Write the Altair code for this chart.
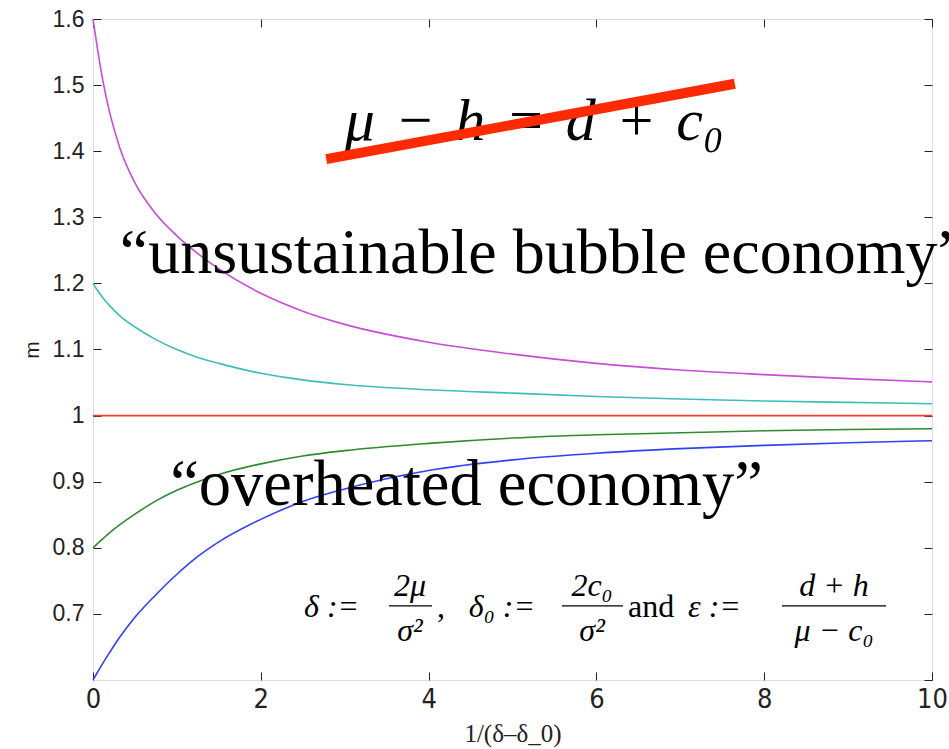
import altair as alt
import pandas as pd

# Sample points along the horizontal axis 1/(delta - delta_0)
x_vals = [0, 0.05, 0.12, 0.2, 0.32, 0.5, 0.75, 1, 1.25, 1.5, 2, 2.5, 3, 4, 5, 6, 7, 8, 9, 10]

# m for each starting level
m_magenta = [1.6, 1.558, 1.505, 1.458, 1.405, 1.352, 1.305, 1.272, 1.245, 1.222, 1.185,
             1.158, 1.138, 1.111, 1.093, 1.079, 1.069, 1.062, 1.056, 1.051]
m_cyan = [1.2, 1.19, 1.178, 1.166, 1.151, 1.134, 1.115, 1.1, 1.088, 1.079, 1.064,
          1.054, 1.047, 1.039, 1.034, 1.029, 1.025, 1.022, 1.02, 1.018]
m_red = [1.0] * len(x_vals)
m_green = [0.8, 0.806, 0.814, 0.823, 0.835, 0.851, 0.871, 0.887, 0.9, 0.911, 0.927,
           0.939, 0.947, 0.958, 0.966, 0.971, 0.974, 0.977, 0.979, 0.98]
m_blue = [0.6, 0.611, 0.626, 0.642, 0.665, 0.695, 0.729, 0.76, 0.787, 0.809, 0.843,
          0.87, 0.889, 0.917, 0.933, 0.943, 0.95, 0.955, 0.959, 0.962]

series_names = ["m0=1.6", "m0=1.2", "m0=1", "m0=0.8", "m0=0.6"]
series_colors = ["#c84cd6", "#3fbcbc", "#f2402e", "#2f8a2f", "#3040ff"]

x_ticks = [0, 2, 4, 6, 8, 10]
y_ticks = [0.6, 0.7, 0.8, 0.9, 1.0, 1.1, 1.2, 1.3, 1.4, 1.5, 1.6]
y_labels = [0.7, 0.8, 0.9, 1.0, 1.1, 1.2, 1.3, 1.4, 1.5, 1.6]

rows = []
for name, vals in zip(series_names, [m_magenta, m_cyan, m_red, m_green, m_blue]):
    for xv, mv in zip(x_vals, vals):
        rows.append({"x": xv, "m": mv, "series": name})
curves = pd.DataFrame(rows)

W, H = 839, 661
TICK = 8
X_SCALE = alt.Scale(domain=[0, 10], nice=False)
Y_SCALE = alt.Scale(domain=[0.6, 1.6], nice=False, zero=False)

# Axes sit TICK px inside the frame so their ticks point inward
X_ENC = alt.X(
    "x:Q",
    scale=X_SCALE,
    axis=alt.Axis(values=x_ticks, format="d", title="1/(δ–δ_0)", domain=False, grid=False,
                  ticks=True, tickSize=TICK, tickColor="#222", offset=-TICK,
                  labelFlush=False,
                  labelFont="Liberation Sans Narrow, DejaVu Sans Condensed, Liberation Sans",
                  labelFontSize=27, labelColor="#222", labelPadding=6,
                  titleFont="Liberation Serif", titleFontSize=25, titleFontWeight="normal",
                  titleColor="#222", titlePadding=9),
)
Y_ENC = alt.Y(
    "m:Q",
    scale=Y_SCALE,
    axis=alt.Axis(values=y_labels, format=".1~f", title="m", domain=False, grid=False,
                  ticks=True, tickSize=TICK, tickColor="#222", offset=-TICK,
                  labelFlush=False, labelFont="Liberation Sans", labelFontSize=23,
                  labelColor="#222", labelPadding=9, titleFont="Liberation Sans",
                  titleFontSize=21, titleFontWeight="normal", titleColor="#222",
                  titlePadding=10),
)

lines = alt.Chart(curves).mark_line(strokeWidth=1.6, interpolate="monotone").encode(
    x=X_ENC,
    y=Y_ENC,
    color=alt.Color("series:N", scale=alt.Scale(domain=series_names, range=series_colors),
                    legend=None),
    detail="series:N",
)

# Tick-only axes on the top and right edges of the frame
frame_ticks = alt.Chart(curves).mark_line(opacity=0).encode(
    x=alt.X("x:Q", scale=X_SCALE,
            axis=alt.Axis(orient="top", values=x_ticks, labels=False, title=None,
                          domain=False, grid=False, ticks=True, tickSize=TICK,
                          tickColor="#222", offset=-TICK)),
    y=alt.Y("m:Q", scale=Y_SCALE,
            axis=alt.Axis(orient="right", values=y_ticks, labels=False, title=None,
                          domain=False, grid=False, ticks=True, tickSize=TICK,
                          tickColor="#222", offset=-TICK)),
    detail="series:N",
)


def label(text, x, y, size, style="normal", align="left", font="Liberation Serif"):
    return alt.Chart(pd.DataFrame({"t": [text]})).mark_text(
        font=font, fontSize=size, fontStyle=style, align=align,
        baseline="alphabetic", color="black",
    ).encode(x=alt.datum(x), y=alt.datum(y), text="t:N")


def bar(x1, x2, y):
    return alt.Chart(pd.DataFrame({"t": [""]})).mark_rule(color="black", strokeWidth=1.3).encode(
        x=alt.datum(x1), x2=alt.datum(x2), y=alt.datum(y)
    )


FS = 32
main_y, num_y, bar_y, den_y = 0.6953, 0.7271, 0.712, 0.659
SP = "\u2004"  # three-per-em space around math operators

annotations = [
    label("“unsustainable bubble economy”", 0.32, 1.216, 64),
    label("“overheated economy”", 0.92, 0.865, 64.5),
    label(f"μ{SP}−{SP}h{SP}={SP}d{SP}+{SP}c₀", 3.0, 1.417, 60, style="italic"),
    alt.Chart(pd.DataFrame({"t": [""]})).mark_rule(color="#ff2a00", strokeWidth=10,
                                                     strokeCap="butt").encode(
        x=alt.datum(2.78), y=alt.datum(1.388), x2=alt.datum(7.65), y2=alt.datum(1.502)
    ),
    label("δ :=", 2.515, main_y, FS, style="italic"),
    label("2μ", 3.778, num_y, FS, style="italic", align="center"),
    bar(3.528, 4.041, bar_y),
    label("σ²", 3.778, den_y, FS, style="italic", align="center"),
    label(",", 4.10, main_y, FS),
    label("δ₀ :=", 4.48, main_y, FS, style="italic"),
    label("2c₀", 5.948, num_y, FS, style="italic", align="center"),
    bar(5.59, 6.317, bar_y),
    label("σ²", 5.948, den_y, FS, style="italic", align="center"),
    label("and", 6.377, main_y, FS),
    label("ε :=", 7.092, main_y, FS, style="italic"),
    label("d + h", 8.832, num_y, FS, style="italic", align="center"),
    bar(8.212, 9.452, bar_y),
    label("μ − c₀", 8.832, den_y, FS, style="italic", align="center"),
]

main = alt.layer(lines, *annotations)

chart = alt.layer(main, frame_ticks).resolve_axis(
    x="independent", y="independent"
).properties(
    width=W,
    height=H,
    padding={"left": 93, "top": 19, "right": 17, "bottom": 69},
    autosize=alt.AutoSizeParams(type="none"),
).configure_view(stroke="#222", strokeWidth=1).configure(background="white")

chart.save("out.html", embed_options={"renderer": "svg", "actions": False})
